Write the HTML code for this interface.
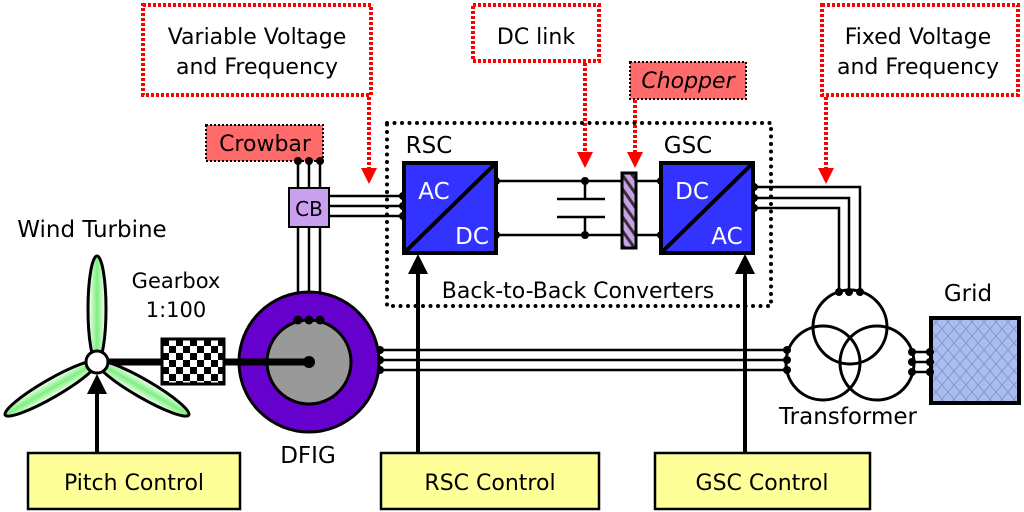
<!DOCTYPE html>
<html><head><meta charset="utf-8"><style>
html,body{margin:0;padding:0;background:#fff}
svg{display:block}
text{font-family:"DejaVu Sans","Liberation Sans",sans-serif;fill:#000}
</style></head><body>
<svg width="1024" height="512" viewBox="0 0 1024 512" xmlns="http://www.w3.org/2000/svg">
<defs>
<pattern id="chk" width="14" height="14" patternUnits="userSpaceOnUse" x="162" y="339">
<rect width="14" height="14" fill="#fff"/><rect width="7" height="7" fill="#000"/><rect x="7" y="7" width="7" height="7" fill="#000"/>
</pattern>
<pattern id="hatch" width="8" height="8" patternUnits="userSpaceOnUse" patternTransform="rotate(-35)">
<rect width="8" height="8" fill="#c9a0e8"/><rect width="3" height="8" fill="#333"/>
</pattern>
<pattern id="grid" width="12" height="14" patternUnits="userSpaceOnUse">
<rect width="12" height="14" fill="#a9bdf5"/><path d="M0 0L6 7L0 14M12 0L6 7L12 14" stroke="#8890a8" stroke-width="0.8" fill="none"/>
</pattern>
<linearGradient id="blade" x1="0" x2="1">
<stop offset="0" stop-color="#fff"/><stop offset="0.5" stop-color="#7ef07e"/><stop offset="1" stop-color="#fff"/>
</linearGradient>
</defs>

<!-- red callout boxes -->
<g fill="none" stroke="#f00" stroke-width="4" stroke-dasharray="3 2">
<rect x="143" y="5" width="228" height="90"/>
<rect x="473" y="5" width="126" height="56"/>
<rect x="822" y="5" width="196" height="90"/>
<path d="M369 97V172M585 63V158M635 100V158M826 97V172"/>
</g>
<g fill="#f00">
<path d="M361 168h16l-8 16z"/><path d="M577 152h16l-8 16z"/><path d="M627 152h16l-8 16z"/><path d="M818 168h16l-8 16z"/>
</g>
<text x="257" y="44" font-size="22" text-anchor="middle">Variable Voltage</text>
<text x="257" y="74" font-size="22" text-anchor="middle">and Frequency</text>
<text x="536" y="44" font-size="22" text-anchor="middle">DC link</text>
<text x="918" y="44" font-size="22" text-anchor="middle">Fixed Voltage</text>
<text x="918" y="74" font-size="22" text-anchor="middle">and Frequency</text>

<!-- chopper label -->
<rect x="630" y="62" width="116" height="37" fill="#ff6a6a" stroke="#000" stroke-width="2" stroke-dasharray="2 2"/>
<text x="688" y="88" font-size="22" text-anchor="middle" font-style="italic">Chopper</text>
<!-- crowbar label -->
<rect x="206" y="125" width="117" height="36" fill="#ff6a6a" stroke="#000" stroke-width="2" stroke-dasharray="2 2"/>
<text x="265" y="151" font-size="22" text-anchor="middle">Crowbar</text>

<!-- B2B dotted box -->
<rect x="387" y="123" width="384" height="183" fill="none" stroke="#000" stroke-width="4" stroke-dasharray="0 7.5" stroke-linecap="round"/>
<text x="578" y="298" font-size="22" text-anchor="middle">Back-to-Back Converters</text>

<!-- wires -->
<g stroke="#000" stroke-width="2.5" fill="none">
<path d="M298 161V320M309 161V320M320 161V320"/>
<path d="M329 196H403M329 206H403M329 216H403"/>
<path d="M496 181H661M496 235H661"/>
<path d="M585 181V199M585 217V235M557 199H605M557 217H605"/>
<path d="M754 187H860V292M754 198H849V292M754 208H839V292"/>
<path d="M380 350H787M380 360H787M380 370H787"/>
<path d="M912 352H930M912 362H930M912 372H930"/>
</g>
<g fill="#000">
<circle cx="298" cy="161" r="4"/><circle cx="309" cy="161" r="4"/><circle cx="320" cy="161" r="4"/>
<circle cx="403" cy="196" r="4"/><circle cx="403" cy="206" r="4"/><circle cx="403" cy="216" r="4"/>
<circle cx="496" cy="181" r="4"/><circle cx="496" cy="235" r="4"/>
<circle cx="661" cy="181" r="4"/><circle cx="661" cy="235" r="4"/>
<circle cx="585" cy="181" r="4"/><circle cx="585" cy="235" r="4"/>
<circle cx="754" cy="187" r="4"/><circle cx="754" cy="198" r="4"/><circle cx="754" cy="208" r="4"/>
<circle cx="380" cy="350" r="4"/><circle cx="380" cy="360" r="4"/><circle cx="380" cy="370" r="4"/>
<circle cx="930" cy="352" r="4"/><circle cx="930" cy="362" r="4"/><circle cx="930" cy="372" r="4"/>
</g>

<!-- CB -->
<rect x="289" y="188" width="40" height="39" fill="#c9a0f0" stroke="#000" stroke-width="2"/>
<text x="309" y="216" font-size="20" text-anchor="middle">CB</text>

<!-- chopper resistor -->
<rect x="622" y="173" width="14" height="75" fill="url(#hatch)" stroke="#000" stroke-width="3"/>

<!-- converters -->
<rect x="404" y="163" width="92" height="90" fill="#3333ff" stroke="#000" stroke-width="4"/>
<path d="M404 253L496 163" stroke="#000" stroke-width="4"/>
<text x="434" y="199" font-size="23" text-anchor="middle" style="fill:#fff">AC</text>
<text x="472" y="244" font-size="23" text-anchor="middle" style="fill:#fff">DC</text>
<rect x="661" y="163" width="92" height="90" fill="#3333ff" stroke="#000" stroke-width="4"/>
<path d="M661 253L753 163" stroke="#000" stroke-width="4"/>
<text x="692" y="199" font-size="23" text-anchor="middle" style="fill:#fff">DC</text>
<text x="727" y="244" font-size="23" text-anchor="middle" style="fill:#fff">AC</text>
<text x="429" y="153" font-size="23" text-anchor="middle">RSC</text>
<text x="688" y="153" font-size="23" text-anchor="middle">GSC</text>

<!-- DFIG -->
<circle cx="309" cy="362" r="70" fill="#6600cc" stroke="#000" stroke-width="3"/>
<circle cx="309" cy="362" r="42" fill="#999" stroke="#000" stroke-width="3"/>
<circle cx="298" cy="320" r="4.5"/><circle cx="309" cy="320" r="4.5"/><circle cx="320" cy="320" r="4.5"/>
<text x="308" y="463" font-size="23" text-anchor="middle">DFIG</text>

<!-- shaft and gearbox -->
<path d="M97 362H309" stroke="#000" stroke-width="7"/>
<circle cx="309" cy="362" r="6" fill="#000"/>
<rect x="162" y="339" width="62" height="45" fill="url(#chk)" stroke="#000" stroke-width="3"/>
<text x="176" y="288" font-size="21" text-anchor="middle">Gearbox</text>
<text x="176" y="317" font-size="21" text-anchor="middle">1:100</text>

<!-- turbine -->
<text x="92" y="237" font-size="23" text-anchor="middle">Wind Turbine</text>
<g stroke="#000" stroke-width="3" fill="url(#blade)">
<ellipse cx="97" cy="309" rx="9" ry="53"/>
<ellipse cx="97" cy="309" rx="9" ry="53" transform="rotate(120 97 362)"/>
<ellipse cx="97" cy="309" rx="9" ry="53" transform="rotate(240 97 362)"/>
</g>
<circle cx="97" cy="362" r="11" fill="#fff" stroke="#000" stroke-width="3"/>

<!-- transformer -->
<g fill="none" stroke="#000" stroke-width="3">
<circle cx="850" cy="327" r="37"/>
<circle cx="823" cy="363" r="37"/>
<circle cx="877" cy="363" r="37"/>
</g>
<g fill="#000">
<circle cx="839" cy="292" r="4"/><circle cx="849" cy="292" r="4"/><circle cx="860" cy="292" r="4"/>
<circle cx="787" cy="350" r="4"/><circle cx="787" cy="360" r="4"/><circle cx="787" cy="370" r="4"/>
<circle cx="912" cy="352" r="4"/><circle cx="912" cy="362" r="4"/><circle cx="912" cy="372" r="4"/>
</g>
<text x="848" y="424" font-size="23" text-anchor="middle">Transformer</text>

<!-- grid -->
<rect x="931" y="318" width="88" height="85" fill="url(#grid)" stroke="#000" stroke-width="4"/>
<g fill="#000"><circle cx="930" cy="352" r="4"/><circle cx="930" cy="362" r="4"/><circle cx="930" cy="372" r="4"/></g>
<text x="968" y="301" font-size="23" text-anchor="middle">Grid</text>

<!-- control arrows -->
<g stroke="#000" stroke-width="4"><path d="M97 452V392M418 452V272M745 452V272"/></g>
<g fill="#000"><path d="M87 394h20l-10 -20z"/><path d="M408 274h20l-10 -20z"/><path d="M735 274h20l-10 -20z"/></g>

<!-- control boxes -->
<g fill="#ffff99" stroke="#000" stroke-width="2.5">
<rect x="28" y="453" width="212" height="56"/>
<rect x="381" y="453" width="218" height="56"/>
<rect x="655" y="453" width="215" height="56"/>
</g>
<text x="134" y="490" font-size="22" text-anchor="middle">Pitch Control</text>
<text x="490" y="490" font-size="22" text-anchor="middle">RSC Control</text>
<text x="762" y="490" font-size="22" text-anchor="middle">GSC Control</text>
</svg>
</body></html>
